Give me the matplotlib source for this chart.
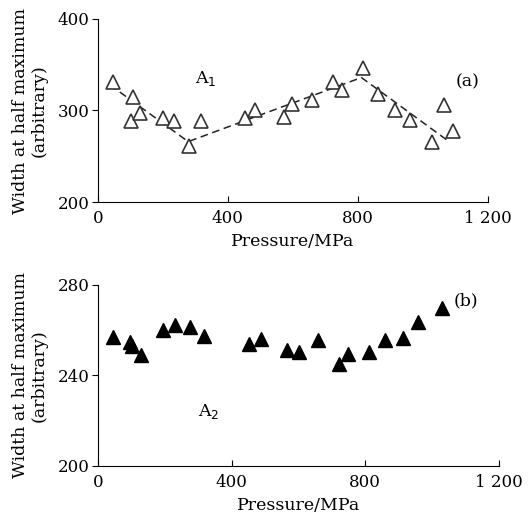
import matplotlib

matplotlib.use("Agg")
import matplotlib.pyplot as plt

# panel (a): A1, open triangles + dashed trend
a_x = [47, 107, 102, 129, 201, 235, 280, 317, 452, 485, 572, 598, 659,
       725, 750, 815, 861, 914, 959, 1029, 1066, 1094]
a_y = [331, 315, 288, 297, 292, 288, 261, 288, 292, 301, 293, 307, 311,
       331, 322, 346, 318, 301, 290, 266, 306, 278]
fit_x = [37, 278, 811, 1073]
fit_y = [328, 266, 336, 268]

# panel (b): A2, filled triangles
b_x = [44, 96, 103, 129, 194, 232, 275, 317, 452, 489, 567, 601, 657,
       722, 748, 811, 859, 912, 957, 1030]
b_y = [256.8, 254.6, 252.8, 249.2, 260.2, 262.1, 261.6, 257.6, 254.0, 256.2,
       251.4, 250.5, 255.6, 245.2, 249.3, 250.5, 255.8, 256.7, 263.6, 269.8]

x_ticks = [0, 400, 800, 1200]
x_ticklabels = ["0", "400", "800", "1 200"]

plt.rcParams["font.family"] = ["DejaVu Serif"]
plt.rcParams["font.size"] = 12

fig = plt.figure(figsize=(5.32, 5.20), dpi=100)
ax1 = fig.add_axes([0.184, 0.6115, 0.733, 0.352])
ax2 = fig.add_axes([0.184, 0.104, 0.754, 0.348])


def style(ax, ylim, yticks):
    for s in ("top", "right"):
        ax.spines[s].set_visible(False)
    ax.set_xlim(0, 1200)
    ax.set_ylim(*ylim)
    ax.set_xticks(x_ticks)
    ax.set_xticklabels(x_ticklabels)
    ax.set_yticks(yticks)
    ax.tick_params(axis="x", direction="in", length=4, width=0.8, pad=6)
    ax.tick_params(axis="y", direction="out", length=4, width=0.8, pad=2)
    ax.set_xlabel("Pressure/MPa", fontsize=12.5, labelpad=4)
    ax.set_ylabel("Width at half maximum\n(arbitrary)", fontsize=12.5,
                  labelpad=7, linespacing=1.15)


ax1.plot(fit_x, fit_y, color="#222222", linestyle=(0, (5, 3)), linewidth=1.1)
ax1.plot(a_x, a_y, linestyle="none", marker="^", markersize=9.5,
         markerfacecolor="white", markeredgecolor="#333333", markeredgewidth=1.2)
ax1.text(300, 330, "A$_1$", fontsize=12.5)
ax1.text(1100, 326, "(a)", fontsize=12.5)
style(ax1, (200, 400), [200, 300, 400])

ax2.plot(b_x, b_y, linestyle="none", marker="^", markersize=9.5,
         color="black")
ax2.text(300, 222, "A$_2$", fontsize=12.5)
ax2.text(1065, 271, "(b)", fontsize=12.5)
style(ax2, (200, 280), [200, 240, 280])

fig.savefig("out.png")
